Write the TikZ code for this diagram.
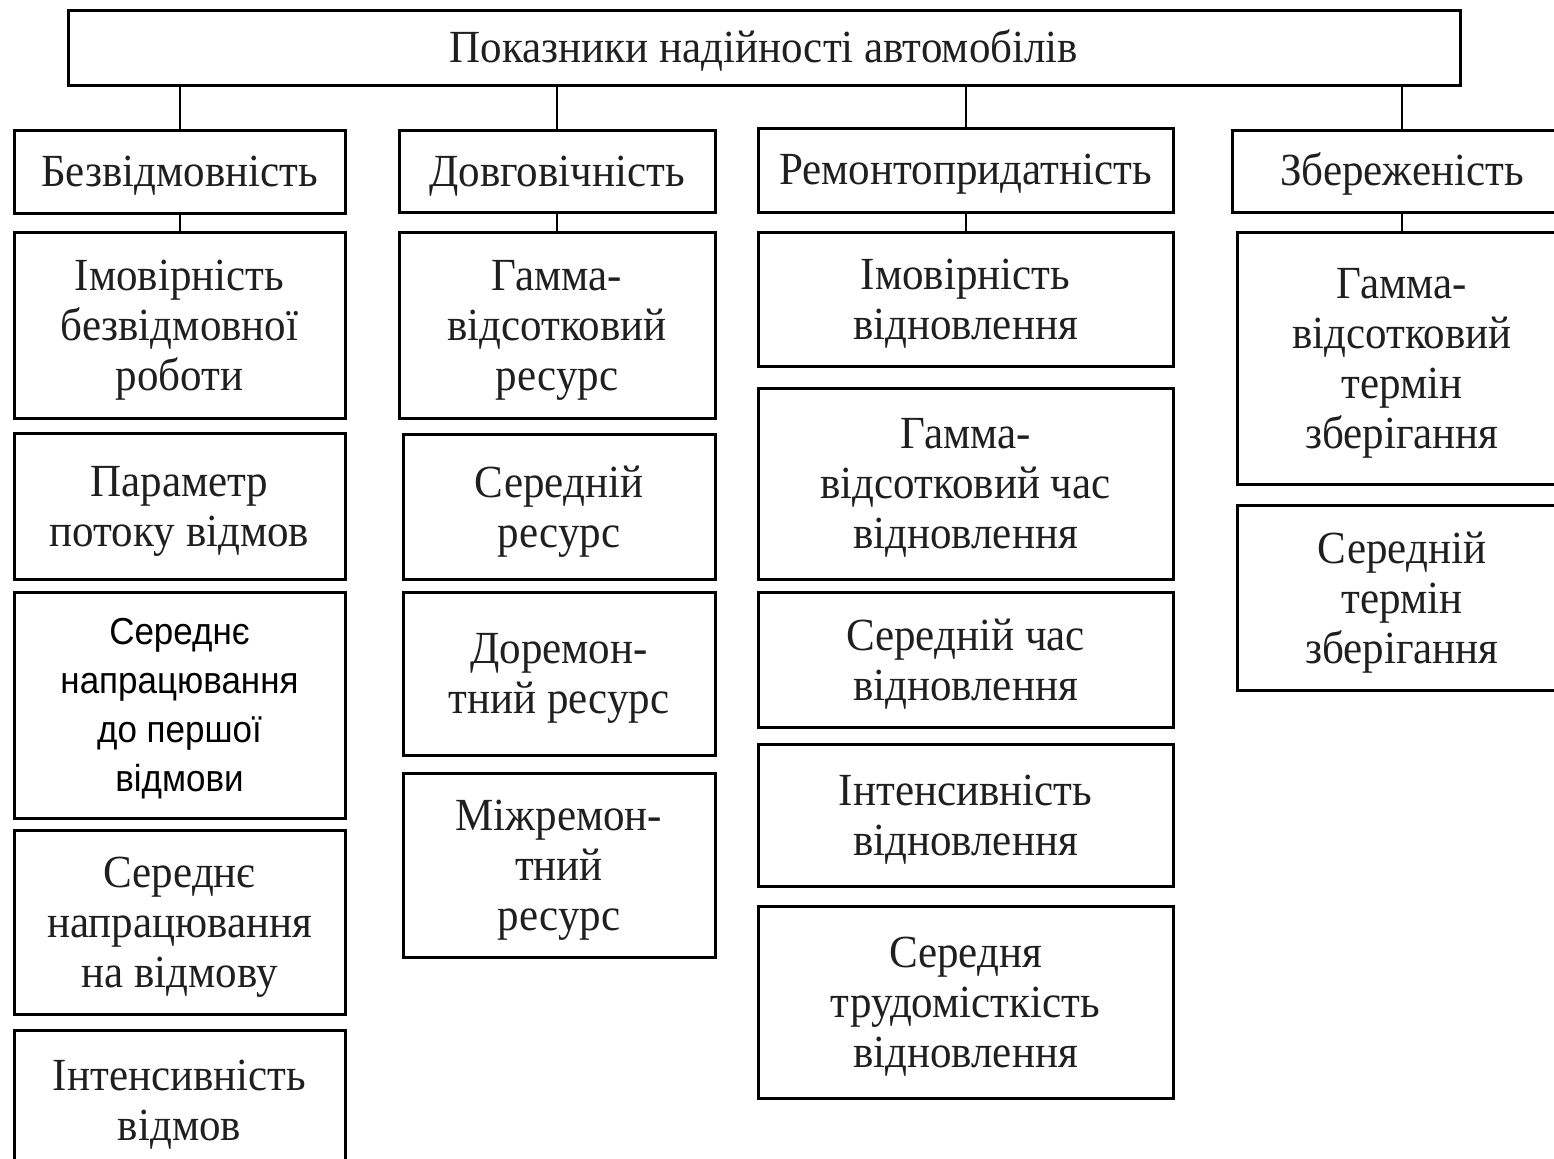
\documentclass[tikz,border=0pt]{standalone}
\usepackage{fontspec}
\setmainfont{Liberation Serif}[FakeStretch=0.935]
\newfontfamily\arialfont{Liberation Sans}[FakeStretch=0.93]
\usepackage{tikz}

\begin{document}
\begin{tikzpicture}[x=0.5pt,y=-0.5pt,
  box/.style={draw, line width=1.5pt, align=center, inner sep=0pt,
    text=black!88, font=\fontsize{23}{25}\selectfont},
  head/.style={box, execute at begin node={\rule{0pt}{19.5pt}}},
  cell/.style={box, text depth=-2pt},
  sanscell/.style={box, text depth=-4pt, text=black,
    font=\arialfont\fontsize{18.8}{24.5}\selectfont},
  link/.style={line width=1pt}]
  \useasboundingbox (0,0) rectangle (1554,1158);
  \clip (0,0) rectangle (1554,1158);

  % Top title box
  \node[head, minimum width=696pt, minimum height=37.5pt] (top) at (764,47.5)
    {Показники надійності автомобілів};

  % Group headers
  \node[head, minimum width=165.5pt, minimum height=41.5pt] (bez) at (179.5,171.5) {Безвідмовність};
  \node[head, minimum width=158pt, minimum height=41pt] (dov) at (557,171.5) {Довговічність};
  \node[head, minimum width=207.5pt, minimum height=42pt] (rem) at (965.5,170) {Ремонтопридатність};
  \node[head, minimum width=170pt, minimum height=41pt] (zber) at (1402,171) {Збереженість};

  % Links from the title box
  \foreach \g in {bez,dov,rem,zber}
    \draw[link] (\g.north) -- (\g.north |- top.south);

  % Column 1
  \node[cell, minimum width=165.5pt, minimum height=93pt] (bez1) at (179.5,325)
    {Імовірність\\безвідмовної\\роботи};
  \node[cell, minimum width=165.5pt, minimum height=73pt] (bez2) at (179.5,506)
    {Параметр\\потоку відмов};
  \node[sanscell, minimum width=165.5pt, minimum height=113pt] (bez3) at (179.5,705)
    {Середнє\\напрацювання\\до першої\\відмови};
  \node[cell, minimum width=165.5pt, minimum height=92pt] (bez4) at (179.5,922)
    {Середнє\\напрацювання\\на відмову};
  \node[cell, minimum width=165.5pt, minimum height=70pt] (bez5) at (179.5,1100)
    {Інтенсивність\\відмов};

  % Column 2
  \node[cell, minimum width=158pt, minimum height=93pt] (dov1) at (557,325)
    {Гамма-\\відсотковий\\ресурс};
  \node[cell, minimum width=156pt, minimum height=72.5pt] (dov2) at (559,506.5)
    {Середній\\ресурс};
  \node[cell, minimum width=156pt, minimum height=81.5pt] (dov3) at (559,673.5)
    {Доремон-\\тний ресурс};
  \node[cell, minimum width=156pt, minimum height=92pt] (dov4) at (559,865)
    {Міжремон-\\тний\\ресурс};

  % Column 3
  \node[cell, minimum width=207.5pt, minimum height=67pt] (rem1) at (965.5,299)
    {Імовірність\\відновлення};
  \node[cell, minimum width=207.5pt, minimum height=95.5pt] (rem2) at (965.5,483.5)
    {Гамма-\\відсотковий час\\відновлення};
  \node[cell, minimum width=207.5pt, minimum height=67.5pt] (rem3) at (965.5,659.5)
    {Середній час\\відновлення};
  \node[cell, minimum width=207.5pt, minimum height=71pt] (rem4) at (965.5,815)
    {Інтенсивність\\відновлення};
  \node[cell, minimum width=207.5pt, minimum height=96pt] (rem5) at (965.5,1002)
    {Середня\\трудомісткість\\відновлення};

  % Column 4
  \node[cell, minimum width=165pt, minimum height=126pt] (zber1) at (1402,358)
    {Гамма-\\відсотковий\\термін\\зберігання};
  \node[cell, minimum width=165pt, minimum height=92.5pt] (zber2) at (1402,597.5)
    {Середній\\термін\\зберігання};

  % Links to the first indicator of each group
  \draw[link] (bez.south) -- (bez1.north);
  \draw[link] (dov.south) -- (dov1.north);
  \draw[link] (rem.south) -- (rem1.north);
  \draw[link] (zber.south) -- (zber1.north);
\end{tikzpicture}
\end{document}
